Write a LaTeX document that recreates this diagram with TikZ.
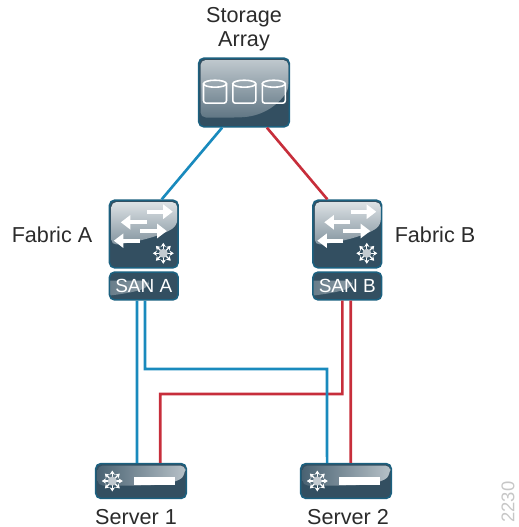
\documentclass[tikz,border=0pt]{standalone}
\usepackage{xcolor}
\usepackage{fontspec}
\setmainfont{Liberation Sans}
\usetikzlibrary{arrows.meta}
\definecolor{fabricblue}{rgb}{0.10, 0.54, 0.74}
\definecolor{fabricred}{rgb}{0.78, 0.18, 0.23}
\definecolor{devicebody}{rgb}{0.20, 0.31, 0.38}
\definecolor{devicerim}{rgb}{0.11, 0.38, 0.50}
\definecolor{labelgray}{rgb}{0.17, 0.17, 0.17}
\tikzset{
	device/.style = {draw=devicerim, line width=0.9pt, rounded corners=3pt, inner sep=0pt, fill=devicebody},
	storagebox/.style = {device, minimum width=91pt*0.5669, minimum height=69pt*0.5669, path picture={
		\shade[shading angle=-60, top color=white!70!devicebody, bottom color=devicebody!85!white] (-43.5,-32.5) -- (44.5,-32.5) -- (44.5,-3)
			.. controls (34,12) and (20,23) .. (-5,25) -- (-43.5,25) -- cycle;
		}},
	switchbox/.style = {device, minimum width=69pt*0.5669, minimum height=68pt*0.5669, path picture={
		\shade[shading angle=-25, top color=white!85!devicebody, bottom color=devicebody!85!white] (-32.5,-32) -- (33.5,-32) -- (33.5,-9)
			.. controls (20,1) and (-5,8) .. (-32.5,11) -- cycle;
		}},
	sanbox/.style = {device, font=\fontsize{10.8pt}{12pt}\selectfont, text=white, minimum width=69pt*0.5669, minimum height=28pt*0.5669, path picture={
		\shade[left color=devicebody!85!white, right color=white!55!devicebody] (-32.5,-12) -- (33.5,-12) -- (33.5,-7)
			.. controls (25.5,-2) and (5.5,3) .. (-32.5,5) -- cycle;
		}},
	serverbox/.style = {device, minimum width=91pt*0.5669, minimum height=35pt*0.5669, path picture={
		\shade[left color=devicebody!90!white, right color=white!65!devicebody] (-43.5,-15.5) -- (44.5,-15.5) -- (44.5,-9.5)
			.. controls (39.5,0.5) and (24.5,3.5) .. (4.5,4.5) -- (-43.5,4.5) -- cycle;
		}},
	devicelabel/.style = {align=center, inner sep=0pt, text=labelgray, font=\fontsize{12.3pt}{13.6pt}\selectfont},
	fablink/.style = {line width=1.5pt, line join=miter},
	bluelink/.style = {fablink, fabricblue},
	redlink/.style = {fablink, fabricred},
	moveright/.style = {white, line width=2.4pt, -{Triangle[length=5.5pt, width=8pt]}},
	pics/fcstar/.style = {code={
		\foreach \ang in {0,45,...,315}
			\draw[white, line width=0.7pt, -{Stealth[length=2.4pt, width=3pt]}] (0,0) -- (\ang:10.5);
		\fill[white!70!devicebody] (0,0) circle (4.5);
	}},
	pics/fabricarrows/.style = {code={
		\draw[moveright] (3.5,-22.3) -- (29,-22.3);
		\draw[moveright] (3,-11.7) -- (-23,-11.7);
		\draw[moveright] (-4,-3) -- (23,-3);
		\draw[moveright] (-4,6.7) -- (-30,6.7);
	}},
	pics/drum/.style = {code={
		\draw[white, line width=0.9pt, rounded corners=1.5pt] (-11.5,-8) -- (-11.5,11.5) -- (11.5,11.5) -- (11.5,-8);
		\draw[white, line width=0.9pt] (0,-8) ellipse (11.5 and 3.5);
	}},
	pics/serverface/.style = {code={
		\pic at (-28.7,0) {fcstar};
		\fill[white] (-7,-3.7) rectangle (34.3,3.9);
	}},
}

\begin{document}
\begin{tikzpicture}[x=0.2mm, y=-0.2mm]
	\useasboundingbox (0,0) rectangle (519,527);

	\node[storagebox](storage) at (244,92.5) {};
	\node[switchbox](switchA) at (143.8,234) {};
	\node[switchbox](switchB) at (347.3,234) {};
	\node[sanbox](sanA) at (143.8,286) {SAN A};
	\node[sanbox](sanB) at (347.3,286) {SAN B};
	\node[serverbox](server1) at (141,481) {};
	\node[serverbox](server2) at (346,481) {};

	\pic at (215,91.7) {drum};
	\pic at (244.3,91.7) {drum};
	\pic at (273.8,91.7) {drum};
	\pic at (switchA) {fabricarrows};
	\pic at (switchB) {fabricarrows};
	\pic at (163.3,253.3) {fcstar};
	\pic at (366.8,253.3) {fcstar};
	\pic at (server1) {serverface};
	\pic at (server2) {serverface};

	\node[devicelabel](storagelabel) at (244,29) {Storage\\Array};
	\node[devicelabel](fabricAlabel) at (52,235) {Fabric A};
	\node[devicelabel](fabricBlabel) at (435,235) {Fabric B};
	\node[devicelabel](server1label) at (136,517) {Server 1};
	\node[devicelabel](server2label) at (348,517) {Server 2};
	\node[rotate=90, text=black!22, font=\fontsize{10.5pt}{12pt}\selectfont, inner sep=0pt](figcode) at (508,502) {2230};

	\draw[bluelink] ([xshift=-22pt*0.5669]storage.south) -- ([xshift=18pt*0.5669]switchA.north);
	\draw[redlink] ([xshift=23pt*0.5669]storage.south) -- ([xshift=-20pt*0.5669]switchB.north);

	\draw[redlink] ([xshift=3.4pt*0.5669]sanB.south) -- ([xshift=4.7pt*0.5669]server2.north);
	\draw[redlink] ([xshift=-5pt*0.5669]sanB.south) |- (160.3,394) -- ([xshift=19.3pt*0.5669]server1.north);
	\draw[bluelink] ([xshift=-6.8pt*0.5669]sanA.south) -- ([xshift=-4pt*0.5669]server1.north);
	\draw[bluelink] ([xshift=1.2pt*0.5669]sanA.south) |- (327,369) -- ([xshift=-19pt*0.5669]server2.north);
\end{tikzpicture}
\end{document}
